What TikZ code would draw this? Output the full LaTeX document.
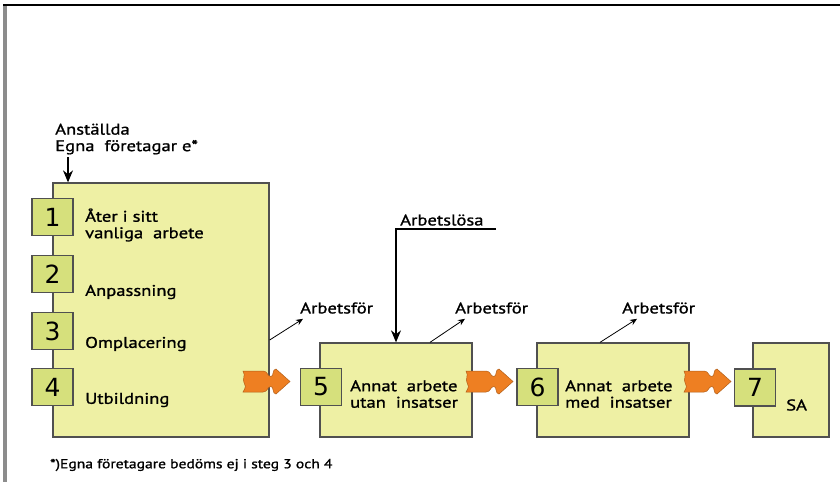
\documentclass[tikz,border=0pt]{standalone}
\usepackage{fontspec}
\setmainfont{PT Sans}[FakeStretch=1.2, FakeBold=1.2]
\newfontfamily\numfont{DejaVu Sans}
\usetikzlibrary{arrows.meta}
\definecolor{boxfill}{HTML}{EEF0A4}
\definecolor{numfill}{HTML}{D6E07C}
\definecolor{boxline}{HTML}{505050}
\definecolor{puzz}{HTML}{EE7F22}
\tikzset{
  bigbox/.style={draw=boxline, fill=boxfill, line width=1.3pt, inner sep=0pt},
  numbox/.style={draw=boxline, fill=numfill, line width=1.3pt, inner sep=0pt,
    minimum width=41pt, minimum height=37pt, font=\numfont\fontsize{25}{25}\selectfont},
  lbl/.style={anchor=west, inner sep=0pt, align=left, font=\fontsize{15.5}{16.5}\selectfont},
  thinarrow/.style={-{Stealth[length=7pt,width=6pt]}, line width=0.8pt},
  bigarrow/.style={-{Stealth[length=12pt,width=10pt]}, line width=1.3pt},
  pics/puzzle/.style={code={
    \fill[puzz, draw=puzz!75!black, line width=0.5pt]
      (0,-10.5) -- (20,-10.5) .. controls (25,-10.5) and (24,-5) .. (28,-5)
      .. controls (31,-5) and (29,-12.5) .. (33,-12.5) -- (47,0) -- (33,12.5)
      .. controls (29,12.5) and (31,5) .. (28,5)
      .. controls (24,5) and (25,10.5) .. (20,10.5) -- (0,10.5)
      .. controls (3,6) and (3,3) .. (1,1) .. controls (-1,-2) and (3,-6) .. (0,-10.5) -- cycle;
  }}
}
\begin{document}
\begin{tikzpicture}[x=1pt,y=-1pt]
\useasboundingbox (0,0) rectangle (840,482);
\fill[white] (0,0) rectangle (840,482);
% frame
\fill[gray!90] (3,5) rectangle (7,482);
\draw[line width=1.5pt] (3,5) -- (840,5);

% big boxes
\node[bigbox, minimum width=216pt, minimum height=254pt] (b1) at (161,310) {};
\node[bigbox, minimum width=152pt, minimum height=94pt] (b5) at (396,390) {};
\node[bigbox, minimum width=152pt, minimum height=94pt] (b6) at (613,390) {};
\node[bigbox, minimum width=76pt, minimum height=94pt] (b7) at (791,390) {};

% number boxes
\node[numbox] (n1) at (52.5,217) {1};
\node[numbox] (n2) at (52.5,274) {2};
\node[numbox] (n3) at (52.5,331) {3};
\node[numbox] (n4) at (52.5,387) {4};
\node[numbox] (n5) at (321,387) {5};
\node[numbox] (n6) at (537.5,387) {6};
\node[numbox] (n7) at (755,387.5) {7};

% texts in boxes
\node[lbl] (t1) at (85,225) {Åter i sitt\\vanliga\ \ arbete};
\node[lbl] (t2) at (85,292) {Anpassning};
\node[lbl] (t3) at (85,344) {Omplacering};
\node[lbl] (t4) at (85,400) {Utbildning};
\node[lbl] (t5) at (350,394) {Annat\ \ arbete\\utan\ \ insatser};
\node[lbl] (t6) at (565,394) {Annat\ \ arbete\\med\ \ insatser};
\node[lbl] (t7) at (786,405) {SA};

% top-left label
\node[lbl] (top) at (55,139) {Anställda\\Egna\ \ företagar e*};
\coordinate (topa) at (68,157);
\draw[bigarrow, line width=1.1pt] (topa) -- (b1.north -| topa);

% Arbetsför labels and arrows
\node[lbl] (af1) at (300,308) {Arbetsför};
\node[lbl] (af2) at (455,308) {Arbetsför};
\node[lbl] (af3) at (622,308) {Arbetsför};
\draw[thinarrow] ([yshift=-30pt]b1.east) -- ([xshift=3pt,yshift=-5pt]af1.south west);
\draw[thinarrow] ([xshift=34pt]b5.north) -- ([xshift=10pt,yshift=-5pt]af2.south west);
\draw[thinarrow] ([xshift=-13pt]b6.north) -- ([xshift=15pt,yshift=-5pt]af3.south west);

% Arbetslösa
\node[lbl] (al) at (400,220) {Arbetslösa};
\coordinate (alend) at (496,229);
\draw[bigarrow] (alend) -| (b5.north);

% puzzle arrows
\pic at (243,381.5) {puzzle};
\pic at (466,381.5) {puzzle};
\pic at (684,381.5) {puzzle};

% footnote
\node[anchor=west, inner sep=0pt, font=\fontsize{13}{14}\selectfont] (fn) at (50,465) {*)Egna företagare bedöms ej i steg 3 och 4};
\end{tikzpicture}
\end{document}
